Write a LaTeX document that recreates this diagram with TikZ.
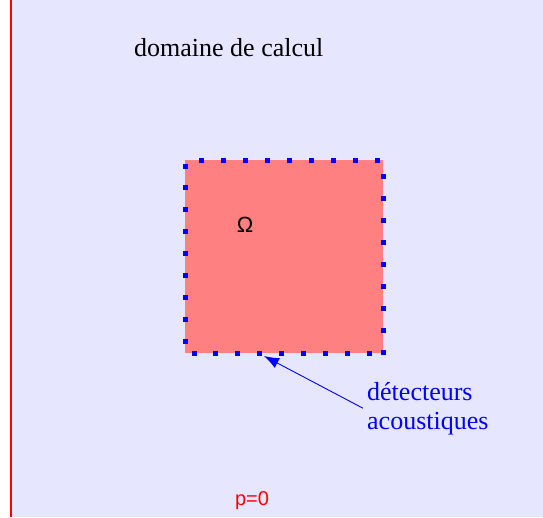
\documentclass[tikz,border=0pt]{standalone}
\usepackage{fontspec}
\setmainfont{Liberation Serif}
\setsansfont{Liberation Sans}
\usetikzlibrary{arrows.meta}
\definecolor{calcbg}{RGB}{230,230,255}
\definecolor{omegafill}{RGB}{255,128,128}

\begin{document}
\begin{tikzpicture}[x=1pt, y=-1pt,
    lbl/.style={inner sep=0pt, font=\fontsize{26}{29}\selectfont},
    sanslbl/.style={inner sep=0pt, font=\sffamily\fontsize{20}{24}\selectfont},
    sensors/.style={draw=blue, line width=5pt, dash pattern=on 5pt off 16.9pt},
    a/.style={-{Latex[length=15pt, width=11pt]}, blue, line width=0.9pt}
]
    \useasboundingbox (0,0) rectangle (543,517);
    \fill[white] (0,0) rectangle (11,517);
    \fill[calcbg] (11,0) rectangle (543,517);
    \draw[red, line width=1.2pt] (11,0) -- (11,517);

    % region Omega and its detectors
    \fill[omegafill] (185,160) rectangle (383,353);
    \draw[sensors, dash phase=18.4pt] (185,160) -- (185,353);
    \draw[sensors, dash phase=15.4pt] (185,353) -- (383,353);
    \draw[sensors] (383,354.5) -- (383,160);
    \draw[sensors, dash phase=18.4pt] (383,160) -- (185,160);

    \node[lbl, anchor=base west] (domain) at (134,56) {domaine de calcul};
    \node[sanslbl, font=\sffamily\fontsize{22}{26}\selectfont, anchor=base] (omega) at (245,232) {Ω};
    \node[lbl, blue, anchor=base west, align=left, inner sep=4pt] (det) at (363,429) {détecteurs\\acoustiques};
    \node[sanslbl, red, anchor=base] (pzero) at (252,505) {p=0};

    \coordinate (tip) at (264,356);
    \draw[a] (det.west) -- (tip);
\end{tikzpicture}
\end{document}
